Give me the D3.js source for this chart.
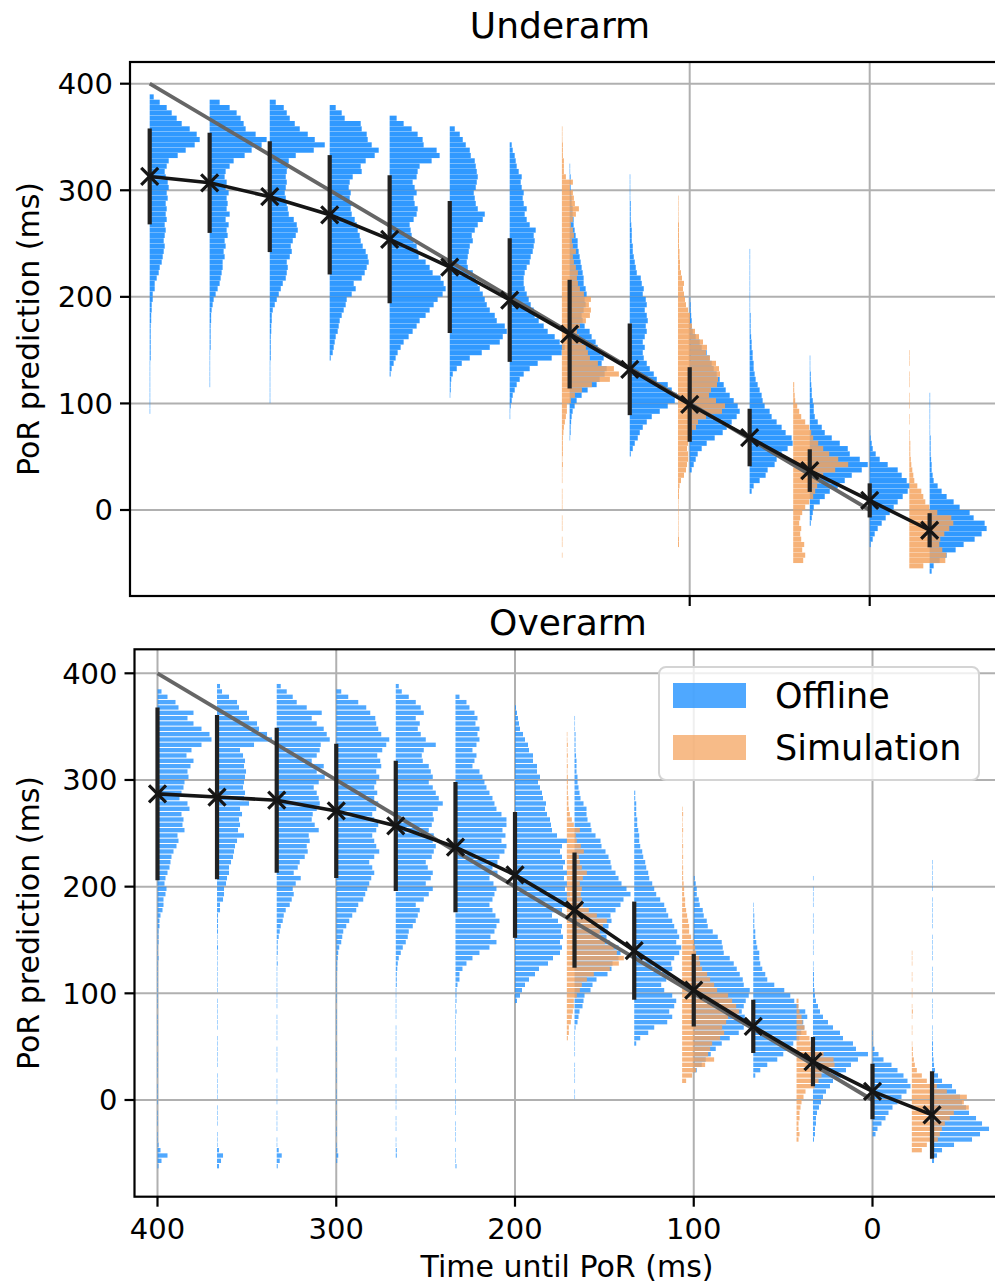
<!DOCTYPE html>
<html>
<head>
<meta charset="utf-8">
<script src="https://cdn.jsdelivr.net/npm/d3@7"></script>
<style>
  body { margin: 0; background: #fff; }
  svg { display: block; font-family: "DejaVu Sans", sans-serif; }
</style>
</head>
<body>
<svg id="chart" width="995" height="1286"></svg>
<script>
// ---------------------------------------------------------------------------
// Data
// ---------------------------------------------------------------------------
const binWidth = 5; // ms per histogram bin

// Sample times (ms until point of release)
const offlineTimes = [400, 366.7, 333.3, 300, 266.7, 233.3, 200, 166.7, 133.3, 100, 66.7, 33.3, 0, -33.3];
const simulationTimes = [171, 106.5, 42.5, -22];

const yTickValues = [0, 100, 200, 300, 400];
const underarmXTicks = [100, 0];
const overarmXTicks = [400, 300, 200, 100, 0];
const identityLine = [400, 0];

// Mean and standard deviation of the offline predictions
const underarmMean = [313, 307, 294, 277, 254, 228, 197, 165, 132, 99, 68, 37, 9, -19];
const underarmStd  = [45, 47, 52, 56, 60, 62, 58, 51, 43, 35, 27, 20, 16, 16];
const overarmMean  = [287, 284, 281, 271, 257, 237, 211, 178, 140, 103, 69, 36, 8, -14];
const overarmStd   = [81, 77, 68, 63, 61, 61, 59, 54, 46, 34, 25, 23, 26, 41];

// Histograms: lower edge of the first bin, then counts per 5 ms bin
const underarmOfflineStart = [90, 115, 100, 140, 125, 105, 85, 65, 50, 35, 15, -15, -35, -60];
const underarmOfflineCounts = [
  [0.5,0.5,0.5,0.5,0.5,0.5,0.5,0.5,0.5,0.5, 1,1,1,1,1,1,1, 1.5,1.5,2,2,3,3,
   5,5,7,9,10,12,13,14,15,14, 15,16,15,17,16,17,16,18,17,19, 18,16,15,17,19,28,36,45,50,47, 40,32,27,22,17,10,4],
  [0.5,0.5,0.5,0.5,0.5,0.5,0.5, 1,1,1,1,1,
   1.5,1.5,2,3,4,6,8,10,11,12, 13,13,15,14,16,15,18,17,19,16, 20,17,18,17,19,16,17,15,16,20, 24,35,42,52,57,46,36,34,31,27, 20,10],
  [0.5,0.5,0.5,0.5,0.5,0.5,0.5,0.5, 1,1,1,1,1,
   1.5,1.5,2,2,3,5,7,9,11,13, 16,17,18,17,20,22,21,23,26,28, 27,24,19,18,17,16,15,16,17,16, 17,18,19,26,44,55,45,38,30,25, 20,17,14,6],
  [1,3,4,5,6,8,9,10,12,14, 16,17,22,26,24,32,35,37,39,38, 36,33,31,30,28,27,25,22,21,22, 20,21,19,20,23,32,31,36,45,49, 42,38,37,32,31,15,12,6],
  [1,2,4,6,8,11,14,19,23,27, 30,36,40,44,48,53,56,54,51,43, 40,36,29,28,27,24,22,21,20,24, 27,28,25,24,27,25,23,27,28,30, 42,50,47,34,33,28,22,14,7],
  [0.5,1,1,1.5,3,7,12,20,32,40, 50,53,57,55,47,45,40,37,35,33, 30,28,26,23,18,17,18,19,20,23, 22,25,28,33,35,28,26,25,24,26, 27,28,27,26,25,21,20,16,13,10, 5],
  [0.5,0.5,1,2,3,5,7,10,14,20, 28,42,52,55,50,45,38,34,29,25, 24,21,19,17,15,14,14,15,17,20, 21,23,24,25,24,26,20,17,15,17, 14,13,14,12,11,12,9,7,6,5, 3,2],
  [0.5,1,1,1.5,2,3,5,7,12,18, 27,30,35,37,32,34,31,28,26,22, 20,15,13,12,14,16,15,17,16,14, 14,13,12,11,10,9,8,8,6,5, 4,4,3,3,2,2,1.5,1,1,1, 0.5,0.5],
  [1,3,5,8,10,13,17,22,30,38, 45,47,42,38,27,24,20,17,14,13, 15,13,15,17,16,18,17,15,17,16, 13,14,12,11,7,6,5,4,3,3, 2,2,2,1.5,1,1,1,1,0.5,0.5, 0.5,0.5,0.5],
  [2,4,6,8,12,17,25,33,37,42, 47,50,48,44,40,36,34,30,27,24, 22,20,17,12,10,6,3,2,2,1.5, 1,1,0.5],
  [2,4,10,16,18,25,27,32,38,43, 42,36,32,27,22,20,15,13,12,10, 8,6,5,4,4,3,3,2,2,1.5,
   1,1,1,1,0.5,0.5,0.5,0.5,0.5,0.5,0.5,0.5,0.5,0.5,0.5,0.5],
  [1,2,3,4,10,15,20,28,35,42, 52,58,50,40,38,30,22,15,12,8, 5,4,4,3,2,2,1.5,1,1,0.5, 0.5,0.5],
  [1,3,5,8,12,16,20,24,28,33, 38,40,37,32,28,18,10,6,3,2, 1,0.5],
  [2,4,10,17,26,34,45,52,57,55, 44,40,30,24,17,12,8,4,3,2, 2,1.5,1,1,1,1,0.5,0.5,0.5,0.5, 0.5,0.5,0.5,0.5]
];

const underarmSimStart = [-45, -35, -50, -55];
const underarmSimCounts = [
  [0.5,0,0.5,0.5,0,0.5,0.5,0.5,0,0.5, 0.5,0.5,0.5,0,0.5,0.5,0.5,1,0.5,1, 1,1,1,1.5,2,
   3,4,5,5,9,13,20,30,48,57, 52,36,28,26,24,20,17,15,18,24, 28,29,27,29,22,18,16,15,16,14,
   12,11,14,11,10,12,11,9,11,14, 17,13,12,11,8,11,4,2,2,2, 1,1,1,0.5,0.5,0.5],
  [1,1,0.5,0.5,0.5,0.5,0.5,0.5,0.5,1, 1,1.5,3,6,8,9,10,10,9,10, 12,14,18,20,28,44,47,38,31,33,
   39,40,42,41,38,32,28,29,25,21, 17,14,12,12,10,8,7,6,5,6, 4,3,2,2,1.5,1.5,1,1,1,1, 1,0.5,0.5,0.5,0.5,0.5],
  [10,12,9,11,8,7,8,6,7,9, 12,16,20,22,24,26,30,42,55,45, 36,30,25,20,18,16,12,8,6,4, 2,1.5,1,1],
  [14,36,37,33,30,31,35,40,44,42, 28,20,16,14,12,8,5,4,3,2, 1.5,1,1,1,0.5,0.5,0,0.5,0.5,0,
   0.5,0.5,0.5,0,0.5,0.5,0.5,0,0.5,0.5, 0.5]
];

const overarmOfflineStart = [-65, -65, -65, -60, -55, -65, 90, 0, 50, 25, 20, -40, -35, -60];
const overarmOfflineCounts = [
  [1,4,10,3,1,
   0.5,0.5,0,0.5,0.5,0.5,0,0.5,0.5,0.5, 0.5,0,0.5,0.5,0.5,0.5,0.5,0,0.5,0.5, 0.5,0.5,0.5,0.5,0,0.5,0.5,0.5,0.5,0.5, 0.5,0.5,0.5,0.5,1,0.5,0.5,1,1,
   1,2,2,3,5,6,6,8,9,7, 8,10,12,13,14,16,19,21,20,27, 25,26,24,32,30,22,24,26,27,31, 30,33,36,29,34,44,54,52,44,36, 30,36,21,18,10,4],
  [2,4,6,2,
   0.5,0.5,0.5,0,0.5,0.5,0.5,0.5,0,0.5, 0.5,0.5,0.5,0.5,0,0.5,0.5,0.5,0.5,0.5, 0.5,0,0.5,0.5,0.5,0.5,0.5,0.5,0,0.5, 0.5,0.5,0.5,0.5,0.5,0.5,0.5,1,0.5,0.5, 1,1,1,
   1,3,3,6,7,7,9,10,12,12, 14,16,17,18,20,27,21,23,22,25, 23,32,27,28,26,27,28,29,27,28, 26,23,37,55,50,42,40,32,30,22, 20,12,5,3],
  [1,3,5,2,
   0.5,0.5,0,0.5,0.5,0.5,0.5,0,0.5,0.5, 0.5,0.5,0.5,0,0.5,0.5,0.5,0.5,0.5,0, 0.5,0.5,0.5,0.5,0.5,0,0.5,0.5,0.5,0.5, 0.5,0.5,0.5,0.5,1,0.5,1,1,1,
   2,3,4,6,7,9,13,15,17,16, 19,24,17,21,23,28,31,30,33,32, 42,38,35,36,40,43,42,40,37,42, 48,40,47,35,40,43,44,53,50,47, 40,35,45,30,20,16,10,4],
  [1,2,1,
   0.5,0,0.5,0.5,0,0.5,0.5,0,0.5,0.5, 0.5,0,0.5,0.5,0.5,0,0.5,0.5,0.5,0.5, 0,0.5,0.5,0.5,0.5,0.5,0,0.5,0.5,0.5, 0.5,0.5,0.5,1,1,1.5,2,
   3,5,6,7,10,13,16,20,22,27, 29,31,33,35,38,36,33,38,43,40, 38,36,40,42,38,36,40,42,38,41, 38,40,43,40,45,44,41,46,50,53, 45,42,40,39,34,30,22,12,5],
  [1,1,
   0.5,0.5,0,0.5,0.5,0.5,0,0.5,0.5,0.5, 0.5,0.5,0,0.5,0.5,0.5,0.5,0,0.5,0.5, 0.5,0.5,0.5,0,0.5,0.5,0.5,0.5,0.5,0.5, 1,1,1,1.5,2,
   3,5,7,10,12,13,17,20,22,24, 20,28,33,37,30,35,37,32,30,36, 38,40,37,38,33,36,38,37,42,47, 43,40,37,33,37,35,33,27,26,28, 40,30,25,22,24,20,28,25,20,13, 6,3],
  [1,
   0.5,0.5,0.5,0,0.5,0.5,0.5,0.5,0,0.5, 0.5,0.5,0.5,0.5,0,0.5,0.5,0.5,0.5,0.5, 0,0.5,0.5,0.5,0.5,0.5,0.5,0.5,1,0.5,1,1,
   1,2,4,4,7,11,17,24,34,41, 35,39,41,44,40,37,34,37,39,41, 38,34,42,37,42,44,49,51,46,50, 47,51,51,46,41,39,37,34,31,29, 27,24,17,19,21,17,21,24,22,24, 20,22,19,14,11,4],
  [2,5,7,10,14,20,24,33,38,45, 47,45,48,46,47,43,37,47,55,52, 55,50,52,49,52,48,50,47,45,47, 52,42,37,36,35,32,30,31,28,27, 25,23,25,22,22,18,18,14,13,10, 8,5,4,3,2,1],
  [0.5,0.5,0,0.5,0.5,0.5,0.5,0,0.5,0.5,0.5,0.5,0.5,
   1,3,4,5,8,9,10,16,18,22, 33,37,38,44,46,44,35,32,33,34, 37,36,41,46,49,56,52,47,44,41, 37,36,34,31,27,26,21,17,16,13, 12,12,9,6,5,4,3,3,2,2, 2,1.5,1,1,1,1,0.5,0.5,0.5],
  [2,6,14,20,33,38,35,40,42,38, 30,27,32,36,38,37,40,45,47,42, 45,43,40,38,34,32,30,26,22,20, 18,15,14,12,11,9,8,6,5,5, 4,3,3,2,2,2,1,1],
  [3,8,12,17,22,28,36,45,50,53, 51,48,50,52,55,56,50,49,46,43, 40,36,30,29,28,24,19,14,13,10, 9,6,5,3,3,2,1],
  [2,7,14,24,30,36,40,46,48,51, 50,54,52,45,41,37,31,21,14,12, 9,7,6,6,4,3,2,2,1,1, 1,0.5,0.5],
  [1,2,2,3,3,4,6,8,10,13, 17,20,28,33,38,45,55,43,40,30, 27,20,15,10,7,5,3,2,1.5,1, 1,1,
   0.5,0.5,0,0.5,0.5,0.5,0,0.5,0.5,0.5, 0.5,0,0.5,0.5,0.5,0.5,0,0.5],
  [3,5,9,13,16,20,25,29,34,38, 35,31,25,19,11,6,2,0.5,0.5,0.5],
  [2,5,10,22,40,48,57,50,44,37, 34,30,28,24,20,10,6,3,2,1.5, 1,1,1,
   0.5,0.5,0.5,0,0.5,0.5,0.5,0.5,0,0.5, 0.5,0.5,0.5,0.5,0,0.5,0.5,0.5,0.5,0.5, 0,0.5,0.5,0.5,0.5,0.5,0.5,0,0.5,0.5, 0.5,0.5,0.5,0.5]
];

const overarmSimStart = [55, 15, -40, -50];
const overarmSimCounts = [
  [1,2,2,4,5,6,7,7,10,13, 15,20,27,43,52,57,50,47,38,34, 33,36,40,30,22,16,15,14,15,13, 16,20,15,13,12,17,14,10,9,13,
   7,5,3,2,1.5,1.5,1,1,1,1, 0.5,1,0.5,1,0.5,1,0.5,0.5],
  [4,10,14,23,32,26,28,30,38,42, 40,44,46,57,54,50,46,35,32,28, 25,20,18,17,14,13,12,9,7,7,
   6,5,4,3,3,2,2,1.5,1,1, 1,0.5,1,0.5,1,0.5,0.5,1,0.5,0.5, 1,0.5],
  [2,3,2,2,3,3,4,5,7,9, 18,22,25,30,38,37,27,15,14,13, 10,8,6,5,3,2,2],
  [10,15,26,28,30,33,38,42,57,52, 55,35,25,15,10,5,3,2,1,1,
   0.5,0,0.5,0.5,0,0.5,1,0.5,0,0.5, 0.5,0,0.5,0.5,0,0.5,0.5,0.5]
];

const seriesNames = ["Offline", "Simulation"];
const offlineColor = "#1e90ff";
const simulationColor = "#f4a460";

// ---------------------------------------------------------------------------
// Layout
// ---------------------------------------------------------------------------
const svg = d3.select("#chart");
const widthScale = d3.scaleLinear().domain([0, 60]).range([0, 60]);

const panels = [
  {
    id: "under", title: "Underarm", titleX: 560, titleY: 38,
    box: { left: 130, right: 1000, top: 62, bottom: 596 },
    xRange: [149.7, 869.7], yRange: [510, 83.7],
    xTicks: underarmXTicks, showXLabels: false,
    mean: underarmMean, std: underarmStd,
    offStart: underarmOfflineStart, offCounts: underarmOfflineCounts,
    simStart: underarmSimStart, simCounts: underarmSimCounts,
    offOpacity: 0.92, simOpacity: 0.85, gap: 0.25
  },
  {
    id: "over", title: "Overarm", titleX: 568, titleY: 635,
    box: { left: 134.5, right: 1000, top: 649.3, bottom: 1196.7 },
    xRange: [157.5, 872.5], yRange: [1100, 673.3],
    xTicks: overarmXTicks, showXLabels: true,
    mean: overarmMean, std: overarmStd,
    offStart: overarmOfflineStart, offCounts: overarmOfflineCounts,
    simStart: overarmSimStart, simCounts: overarmSimCounts,
    offOpacity: 0.78, simOpacity: 0.82, gap: 1.0
  }
];

function drawHistogram(g, x, y, t, start, counts, color, opacity, gap) {
  const bins = counts
    .map((c, i) => ({ lo: start + i * binWidth, c }))
    .filter(d => d.c > 0);
  g.append("g")
    .attr("fill", color)
    .attr("fill-opacity", opacity)
    .selectAll("rect")
    .data(bins)
    .join("rect")
    .attr("x", x(t))
    .attr("y", d => y(d.lo + binWidth))
    .attr("height", d => Math.max(0.3, y(d.lo) - y(d.lo + binWidth) - gap))
    .attr("width", d => widthScale(d.c));
}

panels.forEach(p => {
  const x = d3.scaleLinear().domain([400, 0]).range(p.xRange);
  const y = d3.scaleLinear().domain([0, 400]).range(p.yRange);
  const b = p.box;
  const g = svg.append("g");

  g.append("clipPath").attr("id", "clip-" + p.id)
    .append("rect")
    .attr("x", b.left).attr("y", b.top)
    .attr("width", b.right - b.left).attr("height", b.bottom - b.top);

  // grid
  const grid = g.append("g").attr("stroke", "#b0b0b0").attr("stroke-width", 2);
  grid.selectAll("line.h").data(yTickValues).join("line")
    .attr("x1", b.left).attr("x2", b.right)
    .attr("y1", d => y(d)).attr("y2", d => y(d));
  grid.selectAll("line.v").data(p.xTicks).join("line")
    .attr("x1", d => x(d)).attr("x2", d => x(d))
    .attr("y1", b.top).attr("y2", b.bottom);

  const plot = g.append("g").attr("clip-path", `url(#clip-${p.id})`);

  // histograms: offline first, simulation on top
  p.offCounts.forEach((counts, i) =>
    drawHistogram(plot, x, y, offlineTimes[i], p.offStart[i], counts, offlineColor, p.offOpacity, p.gap));
  p.simCounts.forEach((counts, i) =>
    drawHistogram(plot, x, y, simulationTimes[i], p.simStart[i], counts, simulationColor, p.simOpacity, p.gap));

  // identity reference
  plot.append("line")
    .attr("x1", x(identityLine[0])).attr("y1", y(identityLine[0]))
    .attr("x2", x(identityLine[1])).attr("y2", y(identityLine[1]))
    .attr("stroke", "#666").attr("stroke-width", 3.8);

  // standard deviation bars
  plot.append("g").attr("stroke", "#222").attr("stroke-width", 4.2)
    .selectAll("line").data(offlineTimes.map((t, i) => ({ t, m: p.mean[i], s: p.std[i] })))
    .join("line")
    .attr("x1", d => x(d.t)).attr("x2", d => x(d.t))
    .attr("y1", d => y(d.m - d.s)).attr("y2", d => y(d.m + d.s));

  // mean line and markers
  const pts = offlineTimes.map((t, i) => [t, p.mean[i]]);
  plot.append("path")
    .attr("d", d3.line().x(d => x(d[0])).y(d => y(d[1]))(pts))
    .attr("fill", "none").attr("stroke", "#151515").attr("stroke-width", 3.6);
  plot.append("g").attr("stroke", "#151515").attr("stroke-width", 3.2)
    .selectAll("path").data(pts).join("path")
    .attr("transform", d => `translate(${x(d[0])},${y(d[1])})`)
    .attr("d", "M-8.5,-8.5L8.5,8.5M-8.5,8.5L8.5,-8.5");

  // frame
  g.append("rect")
    .attr("x", b.left).attr("y", b.top)
    .attr("width", b.right - b.left).attr("height", b.bottom - b.top)
    .attr("fill", "none").attr("stroke", "#000").attr("stroke-width", 2.2);

  // y ticks
  const yt = g.append("g");
  yt.selectAll("line").data(yTickValues).join("line")
    .attr("x1", b.left - 10).attr("x2", b.left)
    .attr("y1", d => y(d)).attr("y2", d => y(d))
    .attr("stroke", "#000").attr("stroke-width", 2.2);
  yt.selectAll("text").data(yTickValues).join("text")
    .attr("x", b.left - 17).attr("y", d => y(d)).attr("dy", "0.36em")
    .attr("text-anchor", "end").attr("font-size", 29).attr("fill", "#000")
    .text(d => d);

  // x ticks
  const xt = g.append("g");
  xt.selectAll("line").data(p.xTicks).join("line")
    .attr("x1", d => x(d)).attr("x2", d => x(d))
    .attr("y1", b.bottom).attr("y2", b.bottom + 10)
    .attr("stroke", "#000").attr("stroke-width", 2.2);
  if (p.showXLabels) {
    xt.selectAll("text").data(p.xTicks).join("text")
      .attr("x", d => x(d)).attr("y", b.bottom + 42)
      .attr("text-anchor", "middle").attr("font-size", 29).attr("fill", "#000")
      .text(d => d);
    g.append("text")
      .attr("x", 567).attr("y", b.bottom + 80)
      .attr("text-anchor", "middle").attr("font-size", 30).attr("fill", "#000")
      .text("Time until PoR (ms)");
  }

  // y label
  g.append("text")
    .attr("transform", `translate(39,${(b.top + b.bottom) / 2}) rotate(-90)`)
    .attr("text-anchor", "middle").attr("font-size", 30).attr("fill", "#000")
    .text("PoR prediction (ms)");

  // title
  g.append("text")
    .attr("x", p.titleX).attr("y", p.titleY)
    .attr("text-anchor", "middle").attr("font-size", 36).attr("fill", "#000")
    .text(p.title);
});

// legend in the lower panel
const legend = svg.append("g");
legend.append("rect")
  .attr("x", 659).attr("y", 667).attr("width", 320).attr("height", 113).attr("rx", 7)
  .attr("fill", "#fff").attr("fill-opacity", 0.8)
  .attr("stroke", "#d4d4d4").attr("stroke-width", 2);
const legendColors = [offlineColor, simulationColor];
const legendOpacity = [0.78, 0.75];
seriesNames.forEach((name, i) => {
  legend.append("rect")
    .attr("x", 673).attr("y", 683 + i * 52).attr("width", 73).attr("height", 25)
    .attr("fill", legendColors[i]).attr("fill-opacity", legendOpacity[i]);
  legend.append("text")
    .attr("x", 775).attr("y", 708 + i * 52)
    .attr("font-size", 35).attr("fill", "#000")
    .text(name);
});
</script>
</body>
</html>
